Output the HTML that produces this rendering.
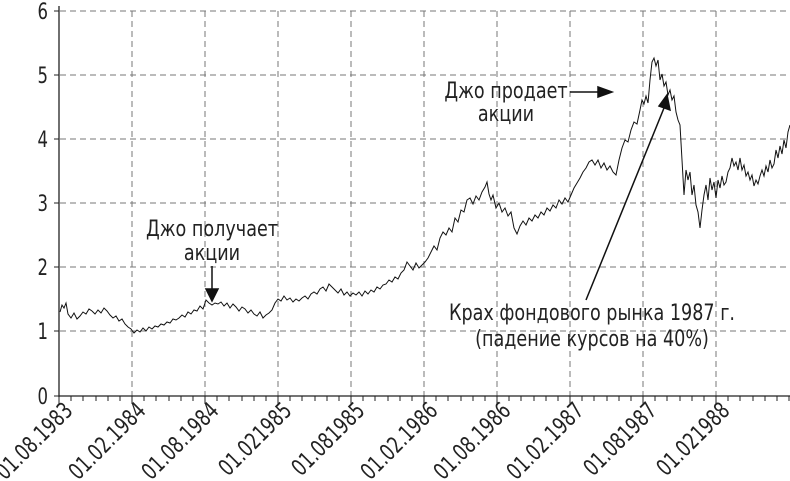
<!DOCTYPE html>
<html><head><meta charset="utf-8"><style>
html,body{margin:0;padding:0;background:#fff;}
svg{display:block;font-family:"DejaVu Sans","Liberation Sans",sans-serif;}
</style></head><body>
<svg width="790" height="481" viewBox="0 0 790 481" xmlns="http://www.w3.org/2000/svg">
<g stroke="#777" stroke-width="1" stroke-dasharray="6,4" fill="none">
<line x1="60" y1="11" x2="790" y2="11"/><line x1="60" y1="75" x2="790" y2="75"/><line x1="60" y1="139" x2="790" y2="139"/><line x1="60" y1="203" x2="790" y2="203"/><line x1="60" y1="267" x2="790" y2="267"/><line x1="60" y1="331" x2="790" y2="331"/>
<line x1="132" y1="11" x2="132" y2="396"/><line x1="205" y1="11" x2="205" y2="396"/><line x1="278" y1="11" x2="278" y2="396"/><line x1="351" y1="11" x2="351" y2="396"/><line x1="424" y1="11" x2="424" y2="396"/><line x1="497" y1="11" x2="497" y2="396"/><line x1="570" y1="11" x2="570" y2="396"/><line x1="643" y1="11" x2="643" y2="396"/><line x1="716" y1="11" x2="716" y2="396"/>
</g>
<g stroke="#222" stroke-width="1.3" fill="none">
<line x1="59" y1="6" x2="59" y2="397"/><line x1="59" y1="396" x2="790" y2="396"/>
</g>
<g stroke="#222" stroke-width="1">
<path d="M59 396V404M71 396V401M83 396V401M96 396V401M108 396V401M120 396V401M132 396V404M144 396V401M156 396V401M169 396V401M181 396V401M193 396V401M205 396V404M217 396V401M229 396V401M242 396V401M254 396V401M266 396V401M278 396V404M290 396V401M302 396V401M315 396V401M327 396V401M339 396V401M351 396V404M363 396V401M375 396V401M388 396V401M400 396V401M412 396V401M424 396V404M436 396V401M448 396V401M461 396V401M473 396V401M485 396V401M497 396V404M509 396V401M521 396V401M534 396V401M546 396V401M558 396V401M570 396V404M582 396V401M594 396V401M607 396V401M619 396V401M631 396V401M643 396V404M655 396V401M667 396V401M680 396V401M692 396V401M704 396V401M716 396V404M728 396V401M740 396V401M753 396V401M765 396V401M777 396V401M789 396V401"/>
<path d="M54 11H59M54 75H59M54 139H59M54 203H59M54 267H59M54 331H59M54 396H59"/>
</g>
<g font-size="22" fill="#222" text-anchor="end">
<text transform="translate(48,19) scale(0.75,1)">6</text><text transform="translate(48,83) scale(0.75,1)">5</text><text transform="translate(48,147) scale(0.75,1)">4</text><text transform="translate(48,211) scale(0.75,1)">3</text><text transform="translate(48,275) scale(0.75,1)">2</text><text transform="translate(48,339) scale(0.75,1)">1</text><text transform="translate(48,404) scale(0.75,1)">0</text>
</g>
<g font-size="23" fill="#222" text-anchor="end">
<text transform="translate(74,412) rotate(-45) scale(0.74,1)">01.08.1983</text>
<text transform="translate(147,412) rotate(-45) scale(0.74,1)">01.02.1984</text>
<text transform="translate(220,412) rotate(-45) scale(0.74,1)">01.08.1984</text>
<text transform="translate(293,412) rotate(-45) scale(0.74,1)">01.021985</text>
<text transform="translate(366,412) rotate(-45) scale(0.74,1)">01.081985</text>
<text transform="translate(439,412) rotate(-45) scale(0.74,1)">01.02.1986</text>
<text transform="translate(512,412) rotate(-45) scale(0.74,1)">01.08.1986</text>
<text transform="translate(585,412) rotate(-45) scale(0.74,1)">01.02.1987</text>
<text transform="translate(658,412) rotate(-45) scale(0.74,1)">01.081987</text>
<text transform="translate(731,412) rotate(-45) scale(0.74,1)">01.021988</text>
</g>
<polyline fill="none" stroke="#111" stroke-width="1" points="60,312 62,305 64,308 66,303 68,314 71,318 74,313 77,319 80,316 83,312 86,314 89,309 92,311 95,314 98,310 101,313 104,308 107,311 110,315 113,318 116,316 119,321 122,319 125,324 128,327 131,329 134,333 137,330 140,332 143,328 146,331 149,327 152,329 155,326 158,327 161,324 164,325 167,322 170,323 173,319 176,320 179,318 182,315 185,317 188,312 191,314 194,310 197,311 200,306 203,309 206,300 209,303 212,305 215,303 218,304 221,302 224,306 227,303 230,308 233,304 236,307 239,311 242,307 245,309 248,313 251,310 254,314 257,316 260,312 263,318 266,315 269,313 272,310 275,303 278,299 281,301 284,296 287,300 290,298 293,302 296,299 299,301 302,298 305,296 308,299 311,294 314,292 317,294 320,289 323,287 326,291 329,284 332,287 335,290 338,293 341,289 344,295 347,292 350,296 353,293 356,295 359,292 362,296 365,291 368,294 371,290 374,292 377,287 380,289 383,285 386,284 389,280 392,282 395,277 398,279 401,273 404,270 407,262 410,266 413,270 416,263 419,268 422,265 425,262 428,258 431,252 434,246 437,250 440,238 443,232 446,235 449,228 452,232 455,218 458,222 461,210 464,212 467,200 470,198 473,204 476,196 479,200 482,192 485,187 487,182 489,194 491,200 493,195 496,208 499,203 502,212 505,208 508,216 511,212 514,228 517,234 520,226 523,221 526,225 529,218 532,221 535,215 538,218 541,212 544,215 547,208 550,211 553,205 556,208 559,200 562,204 565,198 568,202 571,195 574,188 577,183 580,178 583,172 586,168 589,162 592,160 595,165 598,160 601,168 604,163 607,170 610,166 613,172 616,175 619,160 622,148 625,140 628,142 631,130 634,122 637,124 640,110 642,100 644,104 646,96 648,103 650,80 652,62 654,58 656,66 658,60 660,80 662,74 664,86 666,82 668,95 670,90 672,100 674,96 676,112 678,120 680,125 682,160 684,195 686,170 688,180 690,172 692,195 694,185 696,205 698,212 700,228 702,210 704,195 706,185 708,200 710,178 712,190 714,182 716,198 718,180 720,188 722,176 724,185 726,182 728,172 730,168 732,158 734,166 736,162 738,170 740,158 742,170 744,165 746,176 748,172 750,180 752,175 754,186 756,180 758,184 760,176 762,170 764,176 766,166 768,172 770,160 772,168 774,164 776,150 778,158 780,146 782,154 784,140 786,148 788,132 790,125"/>
<g font-size="22" fill="#222" text-anchor="middle">
<text transform="translate(212,236) scale(0.8,1)">Джо получает</text><text transform="translate(212,260) scale(0.8,1)">акции</text>
<text transform="translate(506,98) scale(0.8,1)">Джо продает</text><text transform="translate(506,121) scale(0.8,1)">акции</text>
<text transform="translate(592,320) scale(0.8,1)">Крах фондового рынка 1987 г.</text>
<text transform="translate(592,346) scale(0.8,1)">(падение курсов на 40%)</text>
</g>
<g stroke="#111" stroke-width="1.5" fill="#111">
<line x1="212" y1="266" x2="212" y2="290"/><polygon points="206,289 218,289 212,301"/>
<line x1="570" y1="92" x2="600" y2="92"/><polygon points="598,87 598,97 612,92"/>
<line x1="586" y1="300" x2="664" y2="108"/><polygon points="659,106 670,110 667,95"/>
</g>
</svg>
</body></html>
